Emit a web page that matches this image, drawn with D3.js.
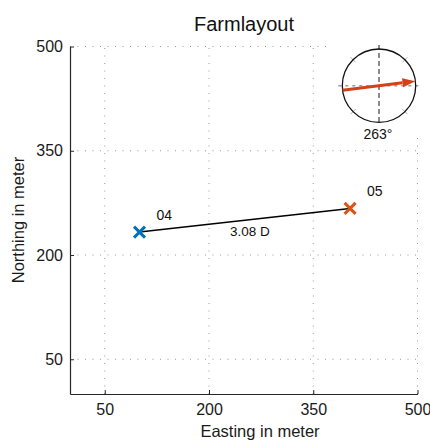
<!DOCTYPE html>
<html>
<head>
<meta charset="utf-8">
<script src="https://cdn.jsdelivr.net/npm/d3@7"></script>
<style>
  body { margin: 0; background: #fff; }
  svg { font-family: "Liberation Sans", Arial, sans-serif; }
</style>
</head>
<body>
<div id="chart"></div>
<script>
// Turbine data
const turbines = ['04', '05'];
const easting = [100, 403];
const northing = [233, 267];
const colors = ['#0072BD', '#D95319'];
const spacing = ['3.08 D'];
const windDir = [263];
const tickVals = [50, 200, 350, 500];

const w = 430;
const h = 442;

const svg = d3.select('#chart')
    .append('svg')
    .attr('width', w)
    .attr('height', h);

// Scales
const xScale = d3.scaleLinear().domain([0, 500]).range([70, 417.5]);
const yScale = d3.scaleLinear().domain([0, 500]).range([394, 46.5]);

// Grid
svg.append('g')
    .selectAll('line')
    .data(tickVals)
    .enter()
    .append('line')
    .attr('x1', (d) => xScale(d))
    .attr('x2', (d) => xScale(d))
    .attr('y1', yScale(0))
    .attr('y2', yScale(500))
    .attr('stroke', '#999')
    .attr('stroke-width', 1)
    .attr('stroke-dasharray', '1,6.5');

svg.append('g')
    .selectAll('line')
    .data(tickVals)
    .enter()
    .append('line')
    .attr('x1', xScale(0))
    .attr('x2', xScale(500))
    .attr('y1', (d) => yScale(d))
    .attr('y2', (d) => yScale(d))
    .attr('stroke', '#999')
    .attr('stroke-width', 1)
    .attr('stroke-dasharray', '1,6.5');

// Axes
const xAxis = d3.axisBottom(xScale).tickValues(tickVals).tickSizeInner(-4).tickSizeOuter(0).tickPadding(10);
const yAxis = d3.axisLeft(yScale).tickValues(tickVals).tickSizeInner(-4).tickSizeOuter(0).tickPadding(10);

const gx = svg.append('g')
    .attr('transform', 'translate(0,' + yScale(0) + ')')
    .call(xAxis);
const gy = svg.append('g')
    .attr('transform', 'translate(' + xScale(0) + ',0)')
    .call(yAxis);

[gx, gy].forEach(function(g) {
  g.select('.domain').attr('stroke', '#262626').attr('stroke-width', 1.2);
  g.selectAll('.tick line').attr('stroke', '#262626');
  g.selectAll('.tick text')
      .attr('fill', '#1a1a1a')
      .style('font-size', '16px')
      .style('font-family', '"Liberation Sans", Arial, sans-serif');
});
gx.selectAll('.tick text').attr('dy', '0.71em').attr('y', 10);
gy.selectAll('.tick text').attr('x', -7);

// Title and axis labels
svg.append('text')
    .attr('x', 244)
    .attr('y', 31)
    .attr('text-anchor', 'middle')
    .style('font-size', '20px')
    .attr('fill', '#111')
    .text('Farmlayout');

svg.append('text')
    .attr('x', 260)
    .attr('y', 437)
    .attr('text-anchor', 'middle')
    .style('font-size', '16.5px')
    .attr('fill', '#1a1a1a')
    .text('Easting in meter');

svg.append('text')
    .attr('transform', 'translate(24,220) rotate(-90)')
    .attr('text-anchor', 'middle')
    .style('font-size', '16.5px')
    .attr('fill', '#1a1a1a')
    .text('Northing in meter');

// Connection line
svg.append('line')
    .attr('x1', xScale(easting[0]))
    .attr('y1', yScale(northing[0]))
    .attr('x2', xScale(easting[1]))
    .attr('y2', yScale(northing[1]))
    .attr('stroke', '#000')
    .attr('stroke-width', 1.5);

svg.append('text')
    .attr('x', (xScale(easting[0]) + xScale(easting[1])) / 2 + 5)
    .attr('y', (yScale(northing[0]) + yScale(northing[1])) / 2 + 15.5)
    .attr('text-anchor', 'middle')
    .style('font-size', '13.5px')
    .attr('fill', '#111')
    .text(spacing[0]);

// Turbine markers
const m = 5.5;
turbines.forEach(function(t, i) {
  const cx = xScale(easting[i]);
  const cy = yScale(northing[i]);
  svg.append('path')
      .attr('d', 'M' + (cx - m) + ',' + (cy - m) + 'L' + (cx + m) + ',' + (cy + m) +
        'M' + (cx - m) + ',' + (cy + m) + 'L' + (cx + m) + ',' + (cy - m))
      .attr('stroke', colors[i])
      .attr('stroke-width', 3);
  svg.append('text')
      .attr('x', cx + 17)
      .attr('y', cy - 12)
      .style('font-size', '14px')
      .attr('fill', '#111')
      .text(t);
});

// Wind compass inset
const cg = svg.append('g');
cg.append('rect')
    .attr('x', 327)
    .attr('y', 38)
    .attr('width', 103)
    .attr('height', 96)
    .attr('fill', '#fff');

const ccx = 379;
const ccy = 85.7;
const rScale = d3.scaleLinear().domain([0, 1]).range([0, 36.7]);
const R = rScale(1);

cg.append('line')
    .attr('x1', ccx).attr('x2', ccx)
    .attr('y1', ccy - R - 4).attr('y2', ccy + R + 2)
    .attr('stroke', '#808080')
    .attr('stroke-width', 1.8)
    .attr('stroke-dasharray', '5,3');
cg.append('line')
    .attr('x1', ccx - R - 4).attr('x2', ccx + R + 4)
    .attr('y1', ccy).attr('y2', ccy)
    .attr('stroke', '#9a9a9a')
    .attr('stroke-width', 1.5)
    .attr('stroke-dasharray', '3,4');

// little x marks on diagonals
[45, 135, 225, 315].forEach(function(a) {
  const rad = a * Math.PI / 180;
  const px = ccx + R * Math.cos(rad);
  const py = ccy - R * Math.sin(rad);
  const s = 2.5;
  cg.append('path')
      .attr('d', 'M' + (px - s) + ',' + (py - s) + 'L' + (px + s) + ',' + (py + s) +
        'M' + (px - s) + ',' + (py + s) + 'L' + (px + s) + ',' + (py - s))
      .attr('stroke', '#aaa')
      .attr('stroke-width', 1);
});

cg.append('circle')
    .attr('cx', ccx)
    .attr('cy', ccy)
    .attr('r', R)
    .attr('fill', 'none')
    .attr('stroke', '#111')
    .attr('stroke-width', 1.3);

// wind arrow: blows towards windDir - 180
const toward = (windDir[0] - 180) * Math.PI / 180;
const ux = Math.sin(toward);
const uy = -Math.cos(toward);
const tipX = ccx + R * ux;
const tipY = ccy + R * uy;
const tailX = ccx - R * ux;
const tailY = ccy - R * uy;
const headL = 13;
const headW = 4.5;
const bx = tipX - headL * ux;
const by = tipY - headL * uy;
const arrowColor = '#D4401A';

cg.append('line')
    .attr('x1', tailX).attr('y1', tailY)
    .attr('x2', bx).attr('y2', by)
    .attr('stroke', arrowColor)
    .attr('stroke-width', 3);
cg.append('path')
    .attr('d', 'M' + tipX + ',' + tipY +
      'L' + (bx - headW * uy) + ',' + (by + headW * ux) +
      'L' + (bx + headW * uy) + ',' + (by - headW * ux) + 'Z')
    .attr('fill', arrowColor);

cg.append('text')
    .attr('x', ccx - 1)
    .attr('y', 139)
    .attr('text-anchor', 'middle')
    .style('font-size', '14px')
    .attr('fill', '#111')
    .text(windDir[0] + '°');
</script>
</body>
</html>
